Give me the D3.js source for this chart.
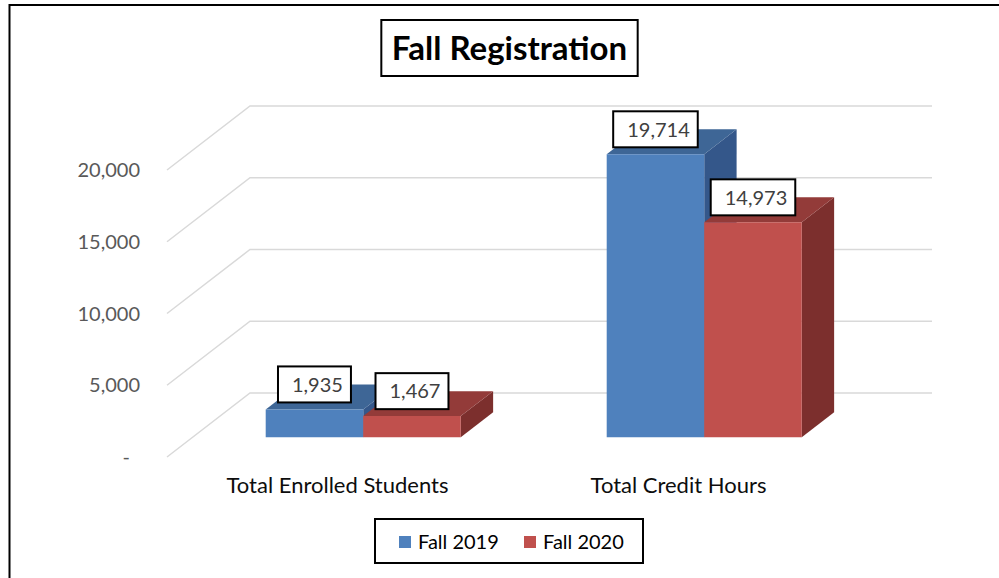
<!DOCTYPE html>
<html>
<head>
<meta charset="utf-8">
<script src="https://cdn.jsdelivr.net/npm/d3@7"></script>
<style>
  html, body { margin: 0; padding: 0; background: #fff; }
  svg { display: block; font-family: Lato, "Open Sans", sans-serif; }
</style>
</head>
<body>
<svg id="chart" width="999" height="578"></svg>
<script>
// ---- data ----
const title = "Fall Registration";
const categories = ["Total Enrolled Students", "Total Credit Hours"];
const seriesNames = ["Fall 2019", "Fall 2020"];
const fall2019 = [1935, 19714];
const fall2020 = [1467, 14973];
const tickValues = [0, 5000, 10000, 15000, 20000];
const tickLabels = ["-", "5,000", "10,000", "15,000", "20,000"];
const seriesColors = [
  { front: "#4F81BD", top: "#3E6696", side: "#34578A" },
  { front: "#C0504D", top: "#933B39", side: "#7C2F2D" }
];

const seriesValues = [fall2019, fall2020];

const svg = d3.select("#chart");

// ---- geometry ----
const frontLeft = 167, frontRight = 849;
const depthDX = 83, depthDY = -64;   // oblique offset of full floor depth
const barD0 = 0.31, barD1 = 0.70;     // bar depth placement (fraction of floor)

const y = d3.scaleLinear().domain([0, 20000]).range([457, 170]);
const x0 = d3.scaleBand().domain(categories).range([frontLeft, frontRight])
  .paddingInner(0.428).paddingOuter(0.214);
const x1 = d3.scaleBand().domain(seriesNames).range([0, x0.bandwidth()]);

const P = (xf, v, d) => [xf + depthDX * d, y(v) + depthDY * d];

// outer border (left + top)
svg.append("path")
  .attr("d", "M9.5,578 L9.5,5 L999,5")
  .attr("fill", "none").attr("stroke", "#000").attr("stroke-width", 2);

// ---- grid: back wall and side wall ----
const grid = svg.append("g").attr("stroke", "#D9D9D9").attr("stroke-width", 1.5).attr("fill", "none");
tickValues.forEach(v => {
  const a = P(frontLeft, v, 0), b = P(frontLeft, v, 1), c = P(frontRight, v, 1);
  grid.append("path").attr("d", `M${a[0]},${a[1]} L${b[0]},${b[1]} L${c[0]},${c[1]}`);
});

// ---- tick labels ----
svg.append("g").selectAll("text").data(tickValues).join("text")
  .attr("x", d => d === 0 ? 130 : 140)
  .attr("y", d => y(d))
  .attr("dy", "0.35em")
  .attr("text-anchor", "end")
  .attr("fill", "#595959")
  .attr("font-size", 20)
  .text((d, i) => tickLabels[i]);

// ---- bars ----
const bars = [];
categories.forEach((c, ci) => {
  seriesNames.forEach((s, si) => {
    bars.push({ cat: c, series: s, si, value: seriesValues[si][ci] });
  });
});

const gBars = svg.append("g");
const poly = pts => "M" + pts.map(p => p.join(",")).join("L") + "Z";
bars.forEach(b => {
  const xl = x0(b.cat) + x1(b.series);
  const xr = xl + x1.bandwidth();
  const col = seriesColors[b.si];
  gBars.append("path").attr("fill", col.side)
    .attr("d", poly([P(xr, 0, barD0), P(xr, 0, barD1), P(xr, b.value, barD1), P(xr, b.value, barD0)]));
  gBars.append("path").attr("fill", col.top)
    .attr("d", poly([P(xl, b.value, barD0), P(xl, b.value, barD1), P(xr, b.value, barD1), P(xr, b.value, barD0)]));
  gBars.append("path").attr("fill", col.front)
    .attr("d", poly([P(xl, 0, barD0), P(xr, 0, barD0), P(xr, b.value, barD0), P(xl, b.value, barD0)]));
});

// ---- data labels ----
const fmt = d3.format(",");
const gLab = svg.append("g");
bars.forEach(b => {
  const xl = x0(b.cat) + x1(b.series);
  const cx = P(xl + x1.bandwidth() / 2, b.value, barD0)[0];
  const cy = P(xl, b.value, barD1)[1];
  const g = gLab.append("g");
  const rect = g.append("rect").attr("fill", "#fff").attr("stroke", "#000").attr("stroke-width", 2);
  const t = g.append("text").attr("x", cx + 3).attr("y", cy).attr("dy", "0.36em")
    .attr("text-anchor", "middle").attr("font-size", 20).attr("fill", "#404040")
    .text(fmt(b.value));
  const w = t.node().getComputedTextLength() + 22;
  rect.attr("x", cx - w / 2).attr("y", cy - 18).attr("width", w).attr("height", 36);
});

// ---- category labels ----
svg.append("g").selectAll("text").data(categories).join("text")
  .attr("x", d => x0(d) + x0.bandwidth() / 2)
  .attr("y", 493)
  .attr("text-anchor", "middle")
  .attr("font-size", 22)
  .attr("fill", "#0D0D0D")
  .text(d => d);

// ---- title ----
const tg = svg.append("g");
const trect = tg.append("rect").attr("fill", "#fff").attr("stroke", "#000").attr("stroke-width", 2);
const tt = tg.append("text").attr("x", 509.5).attr("y", 60).attr("text-anchor", "middle")
  .attr("font-size", 33).attr("font-weight", "bold").attr("fill", "#000").text(title);
const tw = tt.node().getComputedTextLength() + 21;
trect.attr("x", 509.5 - tw / 2).attr("y", 20).attr("width", tw).attr("height", 56);

// ---- legend ----
const lg = svg.append("g");
lg.append("rect").attr("x", 375).attr("y", 519).attr("width", 268).attr("height", 44)
  .attr("fill", "#fff").attr("stroke", "#000").attr("stroke-width", 2);
const legendX = [399, 524];
seriesNames.forEach((s, i) => {
  lg.append("rect").attr("x", legendX[i]).attr("y", 536).attr("width", 12).attr("height", 12)
    .attr("fill", seriesColors[i].front);
  lg.append("text").attr("x", legendX[i] + 19).attr("y", 549).attr("font-size", 20)
    .attr("fill", "#000").text(s);
});
</script>
</body>
</html>
